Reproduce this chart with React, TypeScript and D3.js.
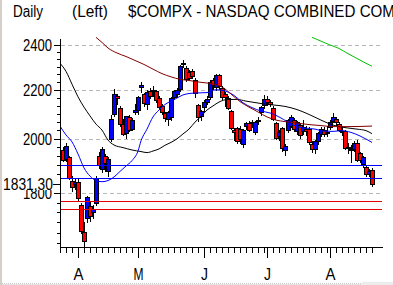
import React from 'react';
import * as d3 from 'd3';

// ---------- data ----------
const holidays = ['2001-04-13', '2001-05-28', '2001-07-04'];
const seriesStart = '2001-03-01';
const firstShown = '2001-03-26';
const lastShown = '2001-08-21';

const opens = [
  1958, 1922, 1930, 1842, 1832, 1840, 1760, 1668, 1715, 1755, 1735, 1765, 1935, 1885, 1935, 1878, 2000, 2100, 2172, 2125,
  2060, 2024, 2087, 2040, 2108, 2116, 2210, 2180, 2140, 2195, 2195, 2195, 2165, 2130, 2102, 2078, 2085, 2170, 2180, 2205,
  2316, 2296, 2276, 2281, 2242, 2136, 2090, 2128, 2148, 2170, 2240, 2210, 2262, 2208, 2180, 2165, 2110, 2036, 2042, 2040,
  1978, 2050, 2064, 2062, 2028, 2072, 2105, 2136, 2160, 2150, 2123, 2062, 2010, 2042, 1957, 2034, 2050, 2074, 2030, 2055,
  2030, 2040, 2040, 1980, 1962, 1990, 2020, 2035, 2022, 2045, 2072, 2078, 2060, 2030, 2030, 1970, 1962, 1962, 1985, 1945,
  1905, 1895, 1866, 1882,
];
const highs = [
  1968, 1983, 1935, 1860, 1855, 1850, 1765, 1700, 1790, 1770, 1760, 1860, 1950, 1968, 1940, 1930, 2095, 2203, 2180, 2130,
  2080, 2092, 2095, 2082, 2140, 2175, 2232, 2186, 2200, 2206, 2215, 2200, 2175, 2140, 2106, 2112, 2170, 2200, 2206, 2310,
  2330, 2306, 2286, 2292, 2250, 2140, 2116, 2156, 2172, 2240, 2252, 2270, 2270, 2215, 2190, 2175, 2115, 2042, 2046, 2050,
  2040, 2068, 2070, 2076, 2070, 2086, 2130, 2178, 2172, 2156, 2130, 2066, 2035, 2046, 1978, 2080, 2095, 2082, 2070, 2060,
  2075, 2050, 2046, 1990, 1995, 2025, 2045, 2045, 2050, 2075, 2103, 2086, 2066, 2046, 2036, 1985, 1975, 1990, 1995, 1950,
  1935, 1900, 1885, 1890,
];
const lows = [
  1915, 1915, 1850, 1808, 1815, 1775, 1665, 1619, 1700, 1705, 1715, 1757, 1890, 1875, 1880, 1860, 1990, 2090, 2140, 2050,
  2015, 2005, 2030, 2035, 2100, 2100, 2190, 2130, 2120, 2165, 2175, 2150, 2120, 2100, 2070, 2055, 2075, 2160, 2170, 2195,
  2300, 2238, 2240, 2250, 2170, 2070, 2075, 2110, 2140, 2160, 2205, 2200, 2205, 2160, 2130, 2118, 2040, 1995, 1985, 1985,
  1970, 2040, 2030, 2045, 2020, 2060, 2095, 2125, 2135, 2130, 2075, 2000, 1995, 1955, 1937, 2025, 2045, 2030, 2020, 2005,
  2020, 2015, 1980, 1950, 1945, 1980, 2010, 2010, 2010, 2040, 2065, 2055, 2030, 2015, 1960, 1945, 1912, 1955, 1915, 1910,
  1895, 1860, 1860, 1826,
];
const closes = [
  1918, 1972, 1854, 1820, 1840, 1783, 1673, 1639, 1785, 1720, 1746, 1852, 1899, 1961, 1909, 1923, 2079, 2182, 2163, 2059,
  2017, 2090, 2036, 2076, 2116, 2168, 2221, 2146, 2192, 2174, 2200, 2157, 2129, 2107, 2083, 2108, 2166, 2194, 2199, 2306,
  2314, 2248, 2250, 2258, 2186, 2085, 2111, 2149, 2162, 2232, 2219, 2264, 2216, 2171, 2170, 2124, 2044, 2028, 1991, 1998,
  2034, 2062, 2035, 2067, 2065, 2075, 2126, 2160, 2149, 2141, 2080, 2004, 2027, 1963, 1972, 2076, 2085, 2037, 2067, 2016,
  2046, 2029, 1989, 1959, 1993, 2023, 2040, 2018, 2027, 2068, 2088, 2066, 2034, 2028, 1966, 1963, 1956, 1982, 1920, 1919,
  1930, 1867, 1879, 1831.3,
];

const maShort: [string, number][] = [
  ['2001-03-23', 2050], ['2001-03-27', 2015], ['2001-03-29', 1988], ['2001-04-02', 1942], ['2001-04-04', 1890],
  ['2001-04-06', 1860], ['2001-04-10', 1844], ['2001-04-12', 1840], ['2001-04-17', 1844], ['2001-04-19', 1857],
  ['2001-04-23', 1877], ['2001-04-25', 1897], ['2001-04-27', 1917], ['2001-05-01', 1953], ['2001-05-02', 1992],
  ['2001-05-04', 2038], ['2001-05-08', 2087], ['2001-05-10', 2115], ['2001-05-14', 2138], ['2001-05-16', 2152],
  ['2001-05-18', 2165], ['2001-05-22', 2178], ['2001-05-24', 2184], ['2001-05-29', 2186], ['2001-06-04', 2188],
  ['2001-06-07', 2200], ['2001-06-12', 2195], ['2001-06-15', 2176], ['2001-06-20', 2145], ['2001-06-25', 2125],
  ['2001-06-28', 2111], ['2001-07-03', 2103], ['2001-07-09', 2087], ['2001-07-12', 2066], ['2001-07-17', 2048],
  ['2001-07-20', 2042], ['2001-07-25', 2038], ['2001-07-30', 2030], ['2001-08-02', 2029], ['2001-08-07', 2032],
  ['2001-08-10', 2025], ['2001-08-15', 2011], ['2001-08-21', 1986],
];
const maMid: [string, number][] = [
  ['2001-03-23', 2316], ['2001-03-27', 2280], ['2001-03-29', 2224], ['2001-04-02', 2170], ['2001-04-04', 2127],
  ['2001-04-06', 2091], ['2001-04-10', 2058], ['2001-04-12', 2034], ['2001-04-17', 1995], ['2001-04-19', 1976],
  ['2001-04-24', 1966], ['2001-04-27', 1957], ['2001-05-02', 1951], ['2001-05-04', 1947], ['2001-05-08', 1953],
  ['2001-05-10', 1961], ['2001-05-14', 1975], ['2001-05-16', 1986], ['2001-05-18', 2000], ['2001-05-22', 2019],
  ['2001-05-24', 2038], ['2001-05-29', 2066], ['2001-05-31', 2089], ['2001-06-04', 2115], ['2001-06-06', 2132],
  ['2001-06-08', 2148], ['2001-06-13', 2159], ['2001-06-18', 2159], ['2001-06-21', 2152], ['2001-06-26', 2146],
  ['2001-06-29', 2140], ['2001-07-05', 2136], ['2001-07-11', 2130], ['2001-07-17', 2117], ['2001-07-23', 2097],
  ['2001-07-27', 2074], ['2001-08-02', 2054], ['2001-08-08', 2044], ['2001-08-14', 2038], ['2001-08-17', 2032],
  ['2001-08-21', 2020],
];
const maLong: [string, number][] = [
  ['2001-04-10', 2436], ['2001-04-12', 2412], ['2001-04-17', 2386], ['2001-04-20', 2363], ['2001-04-25', 2347],
  ['2001-04-30', 2329], ['2001-05-03', 2311], ['2001-05-08', 2290], ['2001-05-11', 2270], ['2001-05-16', 2256],
  ['2001-05-21', 2245], ['2001-05-24', 2240], ['2001-05-31', 2232], ['2001-06-06', 2225], ['2001-06-11', 2212],
  ['2001-06-14', 2182], ['2001-06-19', 2150], ['2001-06-22', 2127], ['2001-06-27', 2107], ['2001-07-02', 2087],
  ['2001-07-06', 2074], ['2001-07-11', 2068], ['2001-07-17', 2062], ['2001-07-23', 2056], ['2001-07-27', 2052],
  ['2001-08-02', 2048], ['2001-08-09', 2048], ['2001-08-21', 2050],
];
const maVeryLong: [string, number][] = [
  ['2001-07-24', 2436], ['2001-07-27', 2418], ['2001-08-01', 2400], ['2001-08-06', 2384], ['2001-08-09', 2360],
  ['2001-08-14', 2338], ['2001-08-17', 2316], ['2001-08-21', 2303],
];

const levelsBlue = [1899, 1852];
const levelsRed = [1771, 1745];
const gridValues = [2400, 2200, 2000, 1800];
const lastPriceLabel = '1831.30';
const monthLabels = ['A', 'M', 'J', 'J', 'A'];
const titleParts = ['Daily', '(Left)', '$COMPX - NASDAQ COMBINED COM'];

// ---------- layout ----------
const W = 393;
const H = 285;
const L = 60;
const R = 383;
const T = 37;
const B = 247;
const FONT = '"Liberation Sans", Arial, sans-serif';

const parse = d3.utcParse('%Y-%m-%d');
const fmt = d3.utcFormat('%Y-%m-%d');
const allDays = d3.utcDay
  .range(parse(seriesStart)!, d3.utcDay.offset(parse(lastShown)!, 1))
  .filter((d) => d.getUTCDay() !== 0 && d.getUTCDay() !== 6 && !holidays.includes(fmt(d)))
  .map((d) => fmt(d));
const firstIdx = allDays.indexOf(firstShown);
const dayIndex = (d: string) => allDays.indexOf(d) - firstIdx;
const lastIdx = dayIndex(lastShown);

const x = d3.scaleLinear().domain([-1, 106.667]).range([L, R]);
const y = d3.scaleLog().domain([1800, 2400]).range([193, 45]);

export default function App() {
  const px = (v: number) => Math.round(v) + 0.5;

  // candles
  const candles = closes.map((c, i) => {
    const o = opens[i];
    const cx = Math.round(x(i));
    const yTop = Math.round(y(Math.max(o, c)));
    const yBot = Math.round(y(Math.min(o, c)));
    const up = c >= o;
    return (
      <g key={i}>
        <line x1={cx + 0.5} x2={cx + 0.5} y1={Math.round(y(highs[i]))} y2={Math.round(y(lows[i])) + 1} stroke="#000" />
        <rect
          x={cx - 1.5}
          y={yTop + 0.5}
          width={4}
          height={Math.max(yBot - yTop, 1)}
          fill={up ? '#0000ff' : '#ff0000'}
          stroke="#000"
          strokeWidth={1}
        />
      </g>
    );
  });

  const line = d3
    .line<[string, number]>()
    .x((d) => x(dayIndex(d[0])))
    .y((d) => y(d[1]))
    .curve(d3.curveMonotoneX);

  // y ticks
  const minorTicks: number[] = [];
  for (let k = 48; k <= 73; k++) {
    if (k % 6 === 0) continue;
    const v = (k * 100) / 3;
    const yy = y(v);
    if (yy >= 39 && yy <= B) minorTicks.push(v);
  }

  // x ticks: every second trading day of each month, major on month start
  const xTicks: { i: number; major: boolean }[] = [];
  const monthStarts: number[] = [];
  allDays.forEach((d, k) => {
    const i = k - firstIdx;
    const month = d.slice(0, 7);
    const mStart = allDays.findIndex((dd) => dd.slice(0, 7) === month);
    const rel = k - mStart;
    if (i < -1 || i > lastIdx) return;
    if (rel === 0) monthStarts.push(i);
    if (rel % 2 === 0) xTicks.push({ i, major: rel === 0 });
  });

  const lastY = Math.round(y(closes[closes.length - 1]));

  return (
    <svg
      width={W}
      height={H}
      viewBox={`0 0 ${W} ${H}`}
      style={{ position: 'fixed', left: 0, top: 0, background: '#fff', display: 'block' }}
      fontFamily={FONT}
    >
      <defs>
        <clipPath id="plot">
          <rect x={L} y={T} width={R - L} height={B - T} />
        </clipPath>
      </defs>
      <rect x={0} y={0} width={W} height={H} fill="#fff" />

      {/* title */}
      <g fontSize={16} fill="#000">
        <text x={13} y={17} textLength={30} lengthAdjust="spacingAndGlyphs">{titleParts[0]}</text>
        <text x={72} y={17} textLength={36} lengthAdjust="spacingAndGlyphs">{titleParts[1]}</text>
        <text x={128} y={17} textLength={267} lengthAdjust="spacingAndGlyphs">{titleParts[2]}</text>
      </g>

      {/* grid */}
      {gridValues.map((v) => (
        <line key={v} x1={L + 1} x2={R} y1={px(y(v))} y2={px(y(v))} stroke="#b8b8b8" strokeDasharray="4,3" />
      ))}

      {/* candles */}
      <g clipPath="url(#plot)">{candles}</g>

      {/* level lines */}
      {levelsBlue.map((v) => (
        <line key={'b' + v} x1={L} x2={R - 1} y1={px(y(v))} y2={px(y(v))} stroke="#0000ff" />
      ))}
      {levelsRed.map((v) => (
        <line key={'r' + v} x1={L} x2={R - 1} y1={px(y(v))} y2={px(y(v))} stroke="#e00000" />
      ))}

      {/* moving averages */}
      <g clipPath="url(#plot)" fill="none" strokeWidth={1}>
        <path d={line(maMid) || ''} stroke="#000" />
        <path d={line(maShort) || ''} stroke="#0000ff" />
        <path d={line(maLong) || ''} stroke="#800000" />
        <path d={line(maVeryLong) || ''} stroke="#00c000" />
      </g>

      {/* left axis */}
      <line x1={L + 0.5} x2={L + 0.5} y1={39} y2={B + 1} stroke="#000" />
      {minorTicks.map((v) => (
        <line key={v} x1={57} x2={L} y1={px(y(v))} y2={px(y(v))} stroke="#000" />
      ))}
      {gridValues.map((v) => (
        <line key={'m' + v} x1={54} x2={L} y1={px(y(v))} y2={px(y(v))} stroke="#000" />
      ))}
      <g fontSize={16} fill="#000" textAnchor="end">
        {gridValues.map((v) => (
          <text key={v} x={52} y={Math.round(y(v)) + 6} textLength={29} lengthAdjust="spacingAndGlyphs">
            {String(v)}
          </text>
        ))}
      </g>
      {/* last price marker */}
      <rect x={2} y={lastY - 7} width={52} height={13} fill="#fff" />
      <line x1={53} x2={L} y1={lastY + 0.5} y2={lastY + 0.5} stroke="#000" />
      <text x={53} y={lastY + 6} fontSize={16} textAnchor="end" textLength={50} lengthAdjust="spacingAndGlyphs">
        {lastPriceLabel}
      </text>

      {/* bottom axis */}
      <line x1={L} x2={R} y1={B + 0.5} y2={B + 0.5} stroke="#000" />
      {xTicks.map((t) => (
        <line
          key={t.i}
          x1={Math.round(x(t.i)) + 0.5}
          x2={Math.round(x(t.i)) + 0.5}
          y1={B}
          y2={B + (t.major ? 11 : 6)}
          stroke="#000"
        />
      ))}
      <g fontSize={17} fill="#000" textAnchor="middle">
        {monthStarts.map((i, k) => (
          <text
            key={i}
            x={Math.round(x(i)) + 0.5}
            y={280}
            textLength={monthLabels[k] === 'J' ? 7 : 10}
            lengthAdjust="spacingAndGlyphs"
          >
            {monthLabels[k]}
          </text>
        ))}
      </g>

      {/* window frame */}
      <rect x={0} y={0} width={2} height={H} fill="#d4d0c8" />
      <line x1={2} x2={W} y1={283.5} y2={283.5} stroke="#c8c8c8" strokeDasharray="1,1" />
      <rect x={2} y={284} width={W} height={1} fill="#e4e4e4" />
      <rect x={362} y={282} width={31} height={3} fill="#ececec" />
    </svg>
  );
}
